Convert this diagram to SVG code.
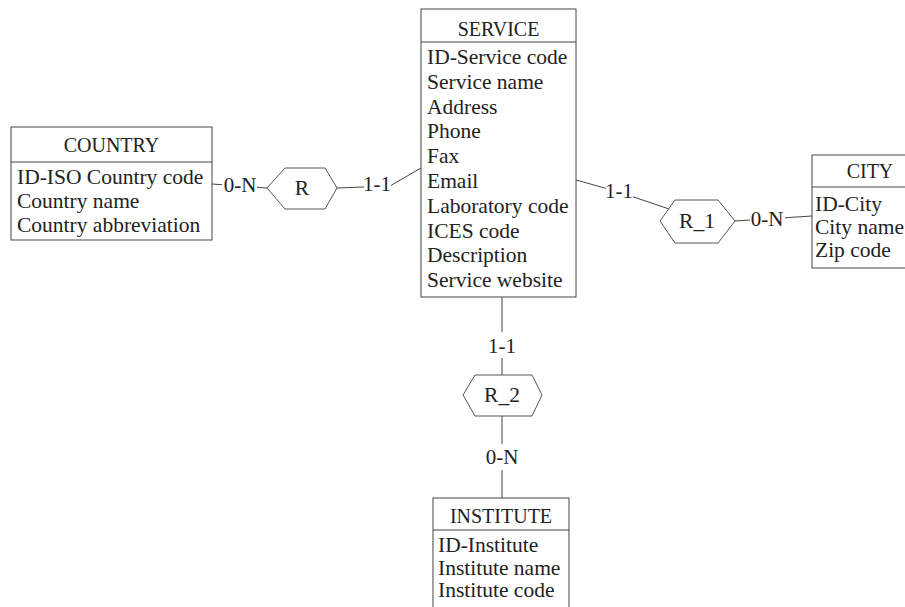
<svg xmlns="http://www.w3.org/2000/svg" width="905" height="607" viewBox="0 0 905 607">
<style>
.box{fill:#fff;stroke:#444;stroke-width:1}
.sep{stroke:#444;stroke-width:1}
.hex{fill:#fff;stroke:#555;stroke-width:1}
.t{font-family:"Liberation Serif","Times New Roman",serif;font-size:21.5px;fill:#222}
.h{font-family:"Liberation Serif","Times New Roman",serif;font-size:20px;fill:#222;text-anchor:middle}
.c{text-anchor:middle}
.lbl{font-family:"Liberation Serif","Times New Roman",serif;font-size:21px;fill:#222;text-anchor:middle}
.bg{fill:#fff;stroke:none}
.ln{fill:none;stroke:#444;stroke-width:1}
</style>
<rect width="905" height="607" fill="#fff"/>
<g id="connectors">
<polyline class="ln" points="212,184 267,188"/>
<polyline class="ln" points="337,188 390,186 421,168"/>
<polyline class="ln" points="576,180 619,192 672,210"/>
<polyline class="ln" points="735,221 812,216"/>
<line class="ln" x1="502" y1="297" x2="502" y2="375"/>
<line class="ln" x1="502" y1="416" x2="502" y2="498"/>
<rect class="bg" x="222" y="175" width="35" height="20"/>
<text class="lbl" x="240" y="192">0-N</text>
<rect class="bg" x="364" y="176" width="27" height="20"/>
<text class="lbl" x="377" y="191">1-1</text>
<rect class="bg" x="606" y="183" width="27" height="20"/>
<text class="lbl" x="619" y="198">1-1</text>
<rect class="bg" x="750" y="211" width="35" height="20"/>
<text class="lbl" x="767" y="226">0-N</text>
<rect class="bg" x="488" y="332" width="28" height="26"/>
<text class="lbl" x="502" y="353">1-1</text>
<rect class="bg" x="484" y="444" width="36" height="26"/>
<text class="lbl" x="502" y="464">0-N</text>
</g>
<g id="COUNTRY">
<rect class="box" x="11" y="127" width="201" height="113"/>
<line class="sep" x1="11" y1="162" x2="212" y2="162"/>
<text class="h" x="111.5" y="152">COUNTRY</text>
<text class="t" x="17" y="184">ID-ISO Country code</text>
<text class="t" x="17" y="208">Country name</text>
<text class="t" x="17" y="232">Country abbreviation</text>
</g>
<g id="SERVICE">
<rect class="box" x="421" y="9" width="155" height="288"/>
<line class="sep" x1="421" y1="42" x2="576" y2="42"/>
<text class="h" x="498.5" y="36">SERVICE</text>
<text class="t" x="427" y="64">ID-Service code</text>
<text class="t" x="427" y="88.8">Service name</text>
<text class="t" x="427" y="113.6">Address</text>
<text class="t" x="427" y="138.4">Phone</text>
<text class="t" x="427" y="163.2">Fax</text>
<text class="t" x="427" y="188">Email</text>
<text class="t" x="427" y="212.8">Laboratory code</text>
<text class="t" x="427" y="237.6">ICES code</text>
<text class="t" x="427" y="262.4">Description</text>
<text class="t" x="427" y="287.2">Service website</text>
</g>
<g id="CITY">
<rect class="box" x="812" y="155" width="116" height="113"/>
<line class="sep" x1="812" y1="187" x2="928" y2="187"/>
<text class="h" x="870" y="178">CITY</text>
<text class="t" x="815" y="211">ID-City</text>
<text class="t" x="815" y="234">City name</text>
<text class="t" x="815" y="257">Zip code</text>
</g>
<g id="INSTITUTE">
<rect class="box" x="433" y="498" width="136" height="120"/>
<line class="sep" x1="433" y1="530" x2="569" y2="530"/>
<text class="h" x="501" y="523">INSTITUTE</text>
<text class="t" x="438" y="552">ID-Institute</text>
<text class="t" x="438" y="575">Institute name</text>
<text class="t" x="438" y="597">Institute code</text>
</g>
<g id="R">
<polygon class="hex" points="267,188 285,168 325,168 337,188 325,209 285,209"/>
<text class="t c" x="302" y="195">R</text>
</g>
<g id="R_1">
<polygon class="hex" points="660,221 675,200 718,200 735,221 718,243 675,243"/>
<text class="t c" x="697" y="228">R_1</text>
</g>
<g id="R_2">
<polygon class="hex" points="463,395 475,375 532,375 542,395 532,416 475,416"/>
<text class="t c" x="502" y="402">R_2</text>
</g>
</svg>
